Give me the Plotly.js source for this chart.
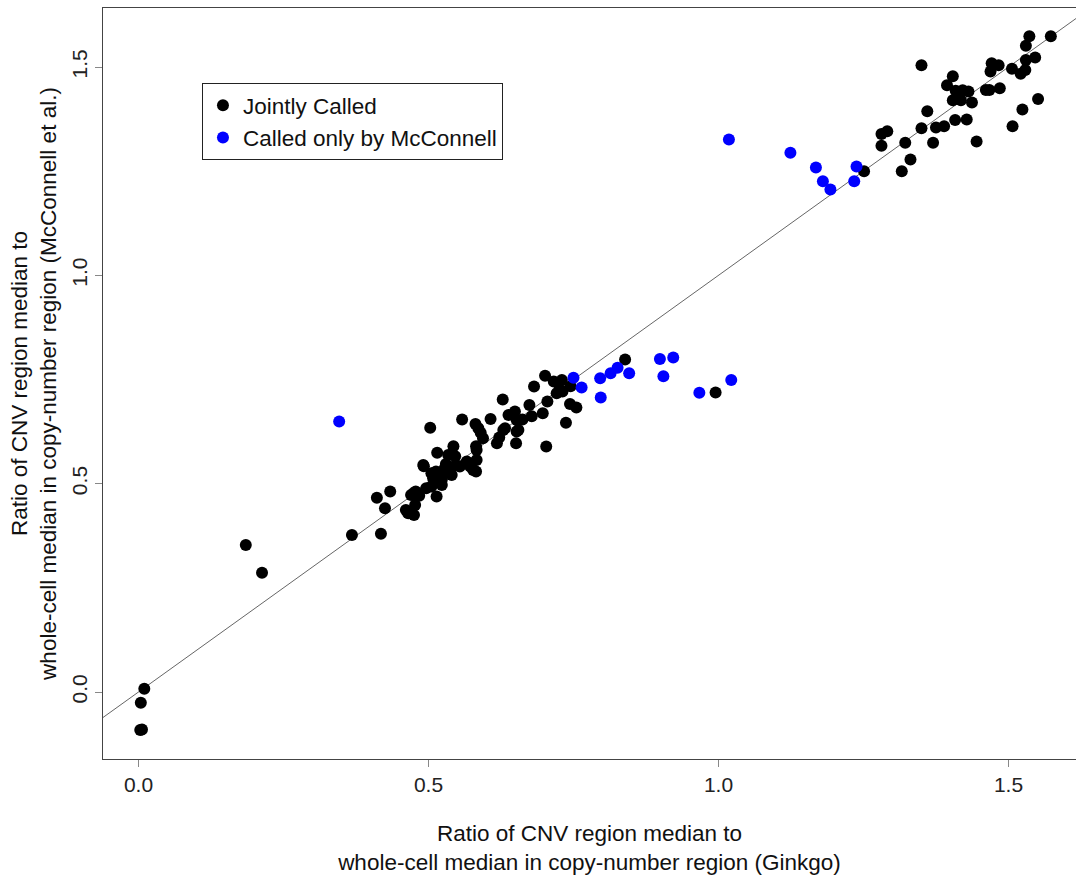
<!DOCTYPE html>
<html>
<head>
<meta charset="utf-8">
<script src="https://cdn.plot.ly/plotly-3.0.1.min.js"></script>
<style>html,body{margin:0;padding:0;background:#fff;}#chart{width:1076px;height:875px;}</style>
</head>
<body>
<div id="chart"></div>
<script>
// Jointly called CNV regions (Ginkgo ratio, McConnell ratio)
var jointX = [0.185,0.213,0.368,0.418,0.425,0.411,0.010,0.004,0.003,0.006,
  0.434,0.461,0.465,0.475,0.477,0.470,0.478,0.484,0.492,0.496,0.503,0.505,0.508,0.513,0.514,0.515,0.517,0.523,0.524,0.528,
  0.530,0.534,0.537,0.540,0.543,0.546,0.547,0.554,0.558,0.566,0.572,0.577,0.582,0.583,0.583,0.582,0.581,0.586,0.590,0.594,
  0.607,0.618,0.622,0.628,0.629,0.638,0.649,0.651,0.652,0.655,0.662,0.674,0.678,0.682,0.697,0.701,0.703,0.705,0.716,0.721,
  0.726,0.730,0.731,0.737,0.744,0.745,0.755,0.839,0.995,
  0.491,0.474,0.505,0.652,0.632,0.523,
  1.251,1.281,1.291,1.281,1.316,1.322,1.331,1.350,1.350,1.360,1.370,1.375,1.389,1.394,1.404,1.404,1.408,1.409,1.418,1.421,
  1.428,1.431,1.437,1.445,1.461,1.467,1.469,1.471,1.483,1.485,1.506,1.507,1.521,1.524,1.529,1.530,1.530,1.536,1.546,1.551,1.573];
var jointY = [0.353,0.286,0.377,0.380,0.441,0.466,0.008,-0.026,-0.091,-0.090,
  0.481,0.437,0.429,0.425,0.449,0.473,0.481,0.471,0.542,0.489,0.634,0.493,0.513,0.529,0.469,0.574,0.505,0.497,0.521,0.537,
  0.547,0.569,0.529,0.521,0.590,0.566,0.545,0.541,0.654,0.553,0.541,0.533,0.529,0.557,0.581,0.590,0.643,0.633,0.622,0.609,
  0.655,0.597,0.611,0.702,0.629,0.665,0.673,0.597,0.653,0.629,0.654,0.689,0.662,0.733,0.669,0.759,0.589,0.697,0.745,0.717,
  0.726,0.749,0.721,0.646,0.691,0.734,0.683,0.798,0.719,
  0.545,0.477,0.525,0.625,0.633,0.510,
  1.250,1.339,1.346,1.311,1.250,1.318,1.278,1.504,1.353,1.394,1.318,1.355,1.358,1.456,1.478,1.420,1.373,1.443,1.420,1.444,
  1.374,1.441,1.415,1.321,1.445,1.445,1.489,1.509,1.504,1.449,1.496,1.358,1.484,1.398,1.493,1.551,1.517,1.574,1.523,1.423,1.574];
// Called only by McConnell
var mcX = [0.346,0.750,0.764,0.796,0.797,0.814,0.826,0.846,0.899,0.922,0.905,0.967,1.022,1.018,1.124,1.168,1.180,1.193,1.238,1.234];
var mcY = [0.649,0.754,0.731,0.753,0.707,0.765,0.778,0.765,0.799,0.803,0.758,0.718,0.749,1.326,1.294,1.259,1.226,1.206,1.261,1.226];
// Identity reference line y = x
var identity = [-0.5, 2.0];
var tickVals = [0, 0.5, 1.0, 1.5];
var tickText = ['0.0', '0.5', '1.0', '1.5'];
var seriesNames = ['Jointly Called', 'Called only by McConnell'];

var font = 'Liberation Sans, Arial, sans-serif';
var traces = [
  {x: identity, y: identity, mode: 'lines', line: {color: '#666666', width: 1}, showlegend: false, hoverinfo: 'skip'},
  {x: jointX, y: jointY, mode: 'markers', name: seriesNames[0], marker: {color: '#000000', size: 12}},
  {x: mcX, y: mcY, mode: 'markers', name: seriesNames[1], marker: {color: '#0000ff', size: 12}}
];
var axisCommon = {
  showgrid: false, zeroline: false, showline: true, linecolor: '#444', linewidth: 1,
  ticks: 'outside', ticklen: 7, tickcolor: '#888', tickwidth: 1,
  tickvals: tickVals, ticktext: tickText,
  tickfont: {family: font, size: 21, color: '#222'}
};
var layout = {
  width: 1076, height: 875,
  margin: {l: 103, r: 0, t: 8, b: 116},
  paper_bgcolor: '#fff', plot_bgcolor: '#fff',
  font: {family: font, size: 22.5, color: '#111'},
  xaxis: Object.assign({}, axisCommon, {
    range: [-0.0612, 1.6164], mirror: true,
    title: {text: 'Ratio of CNV region median to<br>whole-cell median in copy-number region (Ginkgo)', font: {family: font, size: 22.5, color: '#111'}, standoff: 33}
  }),
  yaxis: Object.assign({}, axisCommon, {
    range: [-0.1608, 1.6416], tickangle: -90,
    title: {text: 'Ratio of CNV region median to<br>whole-cell median in copy-number region (McConnell et al.)', font: {family: font, size: 22.5, color: '#111'}, standoff: 4}
  }),
  legend: {
    x: 0.1017, y: 0.900, xanchor: 'left', yanchor: 'top',
    bordercolor: '#222', borderwidth: 1, bgcolor: '#fff',
    font: {family: font, size: 22.5, color: '#111'},
    itemsizing: 'constant', tracegroupgap: 0
  },
  showlegend: true
};
Plotly.newPlot('chart', traces, layout, {displayModeBar: false, staticPlot: true});
</script>
</body>
</html>
